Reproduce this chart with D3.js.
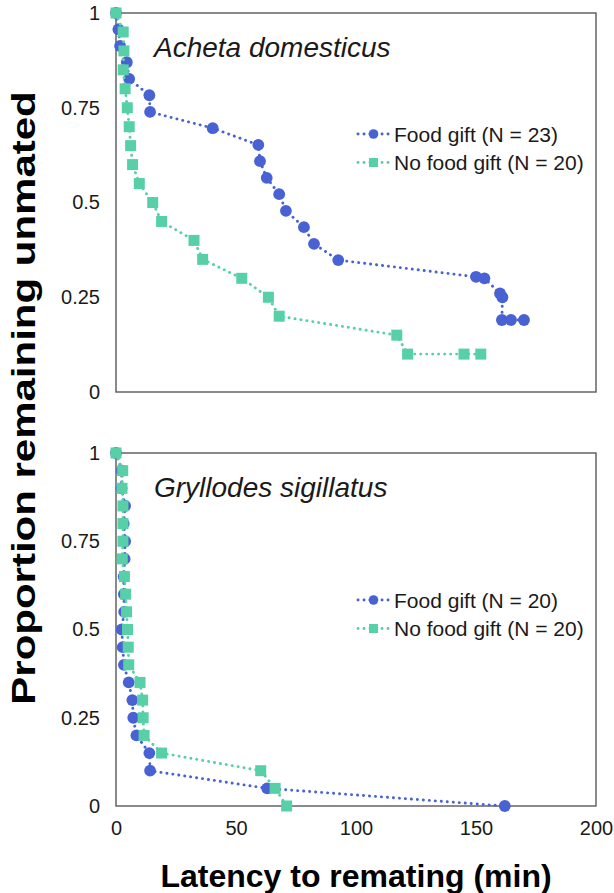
<!DOCTYPE html>
<html>
<head>
<meta charset="utf-8">
<script src="https://cdn.jsdelivr.net/npm/d3@7"></script>
<style>
    body { margin: 0; background: #fff; }
    svg { display: block; font-family: "Liberation Sans", Arial, sans-serif; }
</style>
</head>
<body>
<div id="chart"></div>
<script>
"use strict";

// Acheta domesticus
const ac_food_x = [0, 1.0, 1.7, 4.5, 5.5, 13.9, 14.2, 40.3, 59.3, 60, 62.8, 68, 70.8, 78.3, 82.5, 92.6, 150, 153.5, 160, 161, 160.8, 164.6, 170];
const ac_food_y = [1, 0.957, 0.913, 0.870, 0.826, 0.783, 0.739, 0.696, 0.652, 0.609, 0.565, 0.522, 0.478, 0.435, 0.391, 0.348, 0.304, 0.30, 0.26, 0.25, 0.19, 0.19, 0.19];
const ac_nofood_x = [0, 3.0, 3.3, 3.0, 3.8, 4.7, 5.5, 6.1, 6.9, 9.7, 15.3, 19.0, 32.5, 36.1, 52.4, 63.5, 68.0, 117, 121.5, 145, 152];
const ac_nofood_y = [1, 0.95, 0.90, 0.85, 0.80, 0.75, 0.70, 0.65, 0.60, 0.55, 0.50, 0.45, 0.40, 0.35, 0.30, 0.25, 0.20, 0.15, 0.10, 0.10, 0.10];

// Gryllodes sigillatus
const gs_food_x = [0, 2.5, 2.3, 3.8, 3.2, 3.8, 3.6, 3.2, 3.3, 3.4, 2.4, 2.8, 3.3, 5.3, 6.8, 7.2, 8.5, 13.9, 14.2, 63, 162];
const gs_food_y = [1, 0.95, 0.90, 0.85, 0.80, 0.75, 0.70, 0.65, 0.60, 0.55, 0.50, 0.45, 0.40, 0.35, 0.30, 0.25, 0.20, 0.15, 0.10, 0.05, 0];
const gs_nofood_x = [0, 2.8, 2.5, 2.9, 2.9, 2.9, 2.6, 3.5, 4.0, 4.4, 4.8, 5.1, 5.3, 10, 11.1, 11.3, 11.7, 19, 60.3, 66.3, 71.1];
const gs_nofood_y = [1, 0.95, 0.90, 0.85, 0.80, 0.75, 0.70, 0.65, 0.60, 0.55, 0.50, 0.45, 0.40, 0.35, 0.30, 0.25, 0.20, 0.15, 0.10, 0.05, 0];

const x_ticks = [0, 50, 100, 150, 200];
const y_ticks = [0, 0.25, 0.5, 0.75, 1];
const y_tick_labels = ["0", "0.25", "0.5", "0.75", "1"];

const BLUE = "#4862d4";
const GREEN = "#57d0a8";
const FRAME = "#595959";
const TEXT = "#1a1a1a";
const DOTS = "0.1,5.9";

const WIDTH = 614;
const HEIGHT = 893;
const LEFT = 116;
const PLOT_W = 480;

let svg = d3.select("#chart").append("svg")
    .attr("width", WIDTH)
    .attr("height", HEIGHT);

let xscale = d3.scaleLinear()
    .domain([0, 200])
    .range([LEFT, LEFT + PLOT_W]);

let line = d3.line()
    .x(d => xscale(d.x))
    .y(d => d.ys(d.y));


function zip(xs, ys) {
    return xs.map((x, i) => ({ x: x, y: ys[i] }));
}


function draw_series(g, yscale, data, color, shape) {
    const pts = data.map(d => ({ ...d, ys: yscale }));
    g.append("path")
        .datum(pts)
        .attr("fill", "none")
        .attr("stroke", color)
        .attr("stroke-width", 2.9)
        .attr("stroke-linecap", "round")
        .attr("stroke-dasharray", DOTS)
        .attr("d", line);

    if (shape === "circle") {
        g.selectAll(null)
            .data(pts)
            .enter().append("circle")
            .attr("cx", d => xscale(d.x))
            .attr("cy", d => yscale(d.y))
            .attr("r", 5.9)
            .attr("fill", color);
    } else {
        const s = 11;
        g.selectAll(null)
            .data(pts)
            .enter().append("rect")
            .attr("x", d => xscale(d.x) - s / 2)
            .attr("y", d => yscale(d.y) - s / 2)
            .attr("width", s)
            .attr("height", s)
            .attr("fill", color);
    }
}


function draw_legend(g, y, n_food, n_nofood) {
    const rows = [
        { label: `Food gift (N = ${n_food})`, color: BLUE, shape: "circle" },
        { label: `No food gift (N = ${n_nofood})`, color: GREEN, shape: "square" },
    ];
    rows.forEach((r, i) => {
        const ry = y + i * 28.5;
        g.append("line")
            .attr("x1", 358).attr("x2", 389)
            .attr("y1", ry).attr("y2", ry)
            .attr("stroke", r.color)
            .attr("stroke-width", 2.9)
            .attr("stroke-linecap", "round")
            .attr("stroke-dasharray", DOTS);
        if (r.shape === "circle") {
            g.append("circle")
                .attr("cx", 373.5).attr("cy", ry).attr("r", 4.8)
                .attr("fill", r.color);
        } else {
            g.append("rect")
                .attr("x", 369).attr("y", ry - 4.5)
                .attr("width", 9).attr("height", 9)
                .attr("fill", r.color);
        }
        g.append("text")
            .attr("x", 394)
            .attr("y", ry + 7.5)
            .attr("font-size", 21)
            .attr("fill", TEXT)
            .text(r.label);
    });
}


function draw_panel(top, height, title, food, nofood, n_food, n_nofood, legend_y, show_x) {
    let yscale = d3.scaleLinear()
        .domain([0, 1])
        .range([top + height, top]);

    let g = svg.append("g");

    g.append("rect")
        .attr("x", LEFT)
        .attr("y", top)
        .attr("width", PLOT_W)
        .attr("height", height)
        .attr("fill", "none")
        .attr("stroke", FRAME)
        .attr("stroke-width", 1.4);

    let yaxis = g.append("g")
        .attr("transform", `translate(${LEFT - 16},0)`)
        .call(d3.axisLeft(yscale)
            .tickValues(y_ticks)
            .tickSize(0)
            .tickFormat((d, i) => y_tick_labels[i]));
    yaxis.select(".domain").remove();
    yaxis.selectAll("text")
        .attr("font-family", null)
        .attr("font-size", 20)
        .attr("fill", TEXT)
        .attr("x", 0);

    if (show_x) {
        let xaxis = g.append("g")
            .attr("transform", `translate(0,${top + height + 12})`)
            .call(d3.axisBottom(xscale)
                .tickValues(x_ticks)
                .tickSize(0));
        xaxis.select(".domain").remove();
        xaxis.selectAll("text")
            .attr("font-family", null)
            .attr("font-size", 20)
            .attr("fill", TEXT);
    }

    g.append("text")
        .attr("x", 154)
        .attr("y", top + 43.5)
        .attr("font-size", 28)
        .attr("font-style", "italic")
        .attr("fill", TEXT)
        .text(title);

    draw_series(g, yscale, food, BLUE, "circle");
    draw_series(g, yscale, nofood, GREEN, "square");

    draw_legend(g, legend_y, n_food, n_nofood);
}


draw_panel(13, 379, "Acheta domesticus",
    zip(ac_food_x, ac_food_y), zip(ac_nofood_x, ac_nofood_y), 23, 20, 134, false);
draw_panel(453, 353, "Gryllodes sigillatus",
    zip(gs_food_x, gs_food_y), zip(gs_nofood_x, gs_nofood_y), 20, 20, 600, true);

svg.append("text")
    .attr("x", LEFT + PLOT_W / 2)
    .attr("y", 887)
    .attr("text-anchor", "middle")
    .attr("font-size", 32)
    .attr("font-weight", "bold")
    .attr("fill", "#000")
    .text("Latency to remating (min)");

// the reference title is narrow across its baseline, so squeeze glyph height
svg.append("text")
    .attr("transform", "translate(35,398) rotate(-90) scale(1,0.8)")
    .attr("text-anchor", "middle")
    .attr("font-size", 42)
    .attr("font-weight", "bold")
    .attr("fill", "#000")
    .text("Proportion remaining unmated");
</script>
</body>
</html>
